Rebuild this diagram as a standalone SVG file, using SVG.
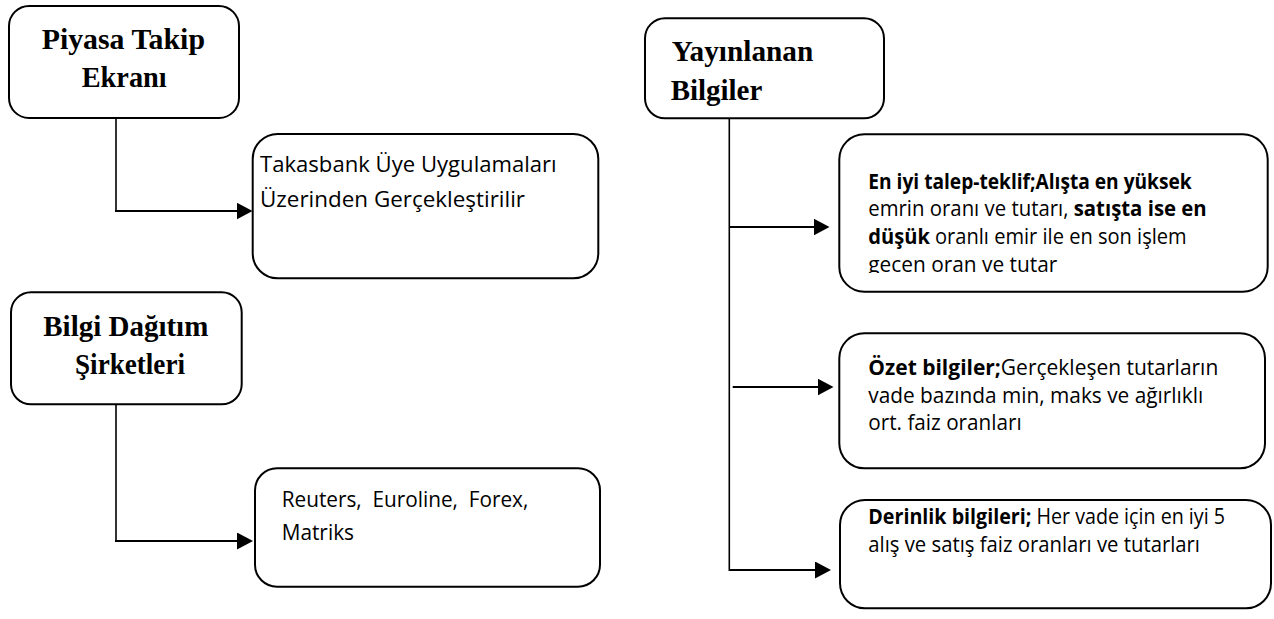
<svg xmlns="http://www.w3.org/2000/svg" width="1274" height="619" viewBox="0 0 1274 619">
  <style>
    .box { fill: #ffffff; stroke: #000000; stroke-width: 2; }
    .head { font-family: "Liberation Serif", "Times New Roman", serif; font-weight: bold; font-size: 30px; fill: #000000; }
    .body { font-family: "Open Sans", "Noto Sans", sans-serif; font-size: 21.5px; fill: #000000; }
    .b { font-weight: bold; }
    .wire { fill: none; stroke: #000000; stroke-width: 1.6; }
    .arrow { fill: none; stroke: #000000; stroke-width: 2.2; marker-end: url(#head); }
  </style>
  <defs>
    <marker id="head" markerUnits="userSpaceOnUse" viewBox="0 0 16 17" refX="12" refY="8.5" markerWidth="16" markerHeight="17" orient="auto">
      <path d="M0,0 L16,8.5 L0,17 Z" fill="#000000"/>
    </marker>
    <clipPath id="clip-best">
      <rect x="835" y="130" width="436" height="143"/>
    </clipPath>
  </defs>

  <rect width="1274" height="619" fill="#ffffff"/>

  <!-- connectors -->
  <g id="connectors">
    <line class="wire" x1="116" y1="118" x2="116" y2="212"/>
    <line class="arrow" x1="115" y1="211" x2="248.5" y2="211"/>
    <line class="wire" x1="116" y1="404" x2="116" y2="542"/>
    <line class="arrow" x1="115" y1="541" x2="249" y2="541"/>
    <line class="wire" x1="729.3" y1="118" x2="729.3" y2="571"/>
    <line class="arrow" x1="729" y1="227" x2="825.5" y2="227"/>
    <line class="arrow" x1="732.7" y1="387" x2="829.5" y2="387"/>
    <line class="arrow" x1="729" y1="570" x2="827" y2="570"/>
  </g>

  <!-- left column -->
  <g id="piyasa-takip">
    <rect class="box" x="9" y="6" width="230" height="112" rx="20"/>
    <text class="head" x="41.7" y="49" textLength="163.3" lengthAdjust="spacingAndGlyphs">Piyasa Takip</text>
    <text class="head" x="81.7" y="87" textLength="85" lengthAdjust="spacingAndGlyphs">Ekranı</text>
  </g>

  <g id="takasbank">
    <rect class="box" x="252.7" y="134" width="345.6" height="144.3" rx="25"/>
    <text class="body" x="260" y="172" textLength="296.7" lengthAdjust="spacingAndGlyphs">Takasbank Üye Uygulamaları</text>
    <text class="body" x="260" y="207" textLength="265" lengthAdjust="spacingAndGlyphs">Üzerinden Gerçekleştirilir</text>
  </g>

  <g id="bilgi-dagitim">
    <rect class="box" x="11" y="292.3" width="230.7" height="112" rx="20"/>
    <text class="head" x="43.3" y="335.5" textLength="165" lengthAdjust="spacingAndGlyphs">Bilgi Dağıtım</text>
    <text class="head" x="75" y="373.8" textLength="110" lengthAdjust="spacingAndGlyphs">Şirketleri</text>
  </g>

  <g id="dagitim-sirketleri">
    <rect class="box" x="255" y="468.3" width="345" height="118.4" rx="22"/>
    <text class="body" x="281.7" y="507" textLength="246.6" lengthAdjust="spacingAndGlyphs" xml:space="preserve">Reuters,  Euroline,  Forex,</text>
    <text class="body" x="281.7" y="540.3" textLength="72.3" lengthAdjust="spacingAndGlyphs">Matriks</text>
  </g>

  <!-- right column -->
  <g id="yayinlanan-bilgiler">
    <rect class="box" x="645" y="18.3" width="239" height="100" rx="20"/>
    <text class="head" x="671.7" y="61.2" textLength="141.6" lengthAdjust="spacingAndGlyphs">Yayınlanan</text>
    <text class="head" x="670.7" y="99.8" textLength="91.6" lengthAdjust="spacingAndGlyphs">Bilgiler</text>
  </g>

  <g id="en-iyi-talep">
    <rect class="box" x="839.3" y="134.3" width="428.4" height="157.4" rx="25"/>
    <g clip-path="url(#clip-best)">
      <text class="body b" x="868.3" y="188.5" textLength="323.4" lengthAdjust="spacingAndGlyphs">En iyi talep-teklif;Alışta en yüksek</text>
      <text class="body" x="868.3" y="216" textLength="338.4" lengthAdjust="spacingAndGlyphs">emrin oranı ve tutarı, <tspan class="b">satışta ise en</tspan></text>
      <text class="body" x="868.3" y="243.5" textLength="318.4" lengthAdjust="spacingAndGlyphs"><tspan class="b">düşük</tspan> oranlı emir ile en son işlem</text>
      <text class="body" x="868.3" y="271.5" textLength="189" lengthAdjust="spacingAndGlyphs">gecen oran ve tutar</text>
    </g>
  </g>

  <g id="ozet-bilgiler">
    <rect class="box" x="839.3" y="333.3" width="425.7" height="135" rx="25"/>
    <text class="body" x="868.3" y="375" textLength="350" lengthAdjust="spacingAndGlyphs"><tspan class="b">Özet bilgiler;</tspan>Gerçekleşen tutarların</text>
    <text class="body" x="868.3" y="402.7" textLength="335" lengthAdjust="spacingAndGlyphs">vade bazında min, maks ve ağırlıklı</text>
    <text class="body" x="868.3" y="430" textLength="153.4" lengthAdjust="spacingAndGlyphs">ort. faiz oranları</text>
  </g>

  <g id="derinlik-bilgileri">
    <rect class="box" x="840" y="500" width="431" height="108.3" rx="25"/>
    <text class="body" x="868.3" y="524" textLength="356.7" lengthAdjust="spacingAndGlyphs"><tspan class="b">Derinlik bilgileri;</tspan> Her vade için en iyi 5</text>
    <text class="body" x="868.3" y="551.7" textLength="331.7" lengthAdjust="spacingAndGlyphs">alış ve satış faiz oranları ve tutarları</text>
  </g>
</svg>
